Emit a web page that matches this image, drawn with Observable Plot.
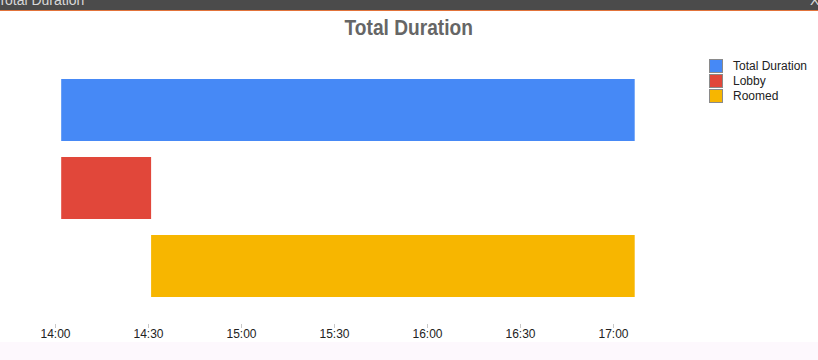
<!DOCTYPE html>
<html>
<head>
<meta charset="utf-8">
<script src="https://cdn.jsdelivr.net/npm/d3@7"></script>
<script src="https://cdn.jsdelivr.net/npm/@observablehq/plot@0.6"></script>
<style>
  html, body { margin: 0; padding: 0; }
  body { width: 818px; height: 360px; background: #fdf8fd; position: relative; overflow: hidden;
         font-family: Arial, "Liberation Sans", sans-serif; }
  #topbar { position: absolute; left: 0; top: 0; width: 818px; height: 10px; background: #4b4b4b;
            border-bottom: 1.5px solid #e2733a; overflow: hidden; }
  #topbar .t { position: absolute; left: -2px; top: -8px; color: #d8d8d8; font-size: 14px;
               font-family: "Liberation Sans Narrow", Arial, sans-serif; white-space: nowrap; }
  #topbar .x { position: absolute; left: 810px; top: -8px; color: #d8d8d8; font-size: 14px; }
  #chart { position: absolute; left: 0; top: 11px; width: 818px; height: 331px; background: #fff; }
  #title { position: absolute; left: 0; width: 818px; top: 15px; text-align: center;
           font-weight: bold; font-size: 22px; color: #666; }
  #title span { display: inline-block; transform: scaleX(0.87); transform-origin: 50% 50%; margin-left: 0px; }
  #legend { position: absolute; left: 709px; top: 58px; font-size: 12px; color: #222; }
  #legend .row { height: 15px; display: flex; align-items: center; }
  #legend .sw { width: 14px; height: 14px; border: 0.5px solid #8a8a8a; box-sizing: border-box; margin-right: 10px; }
</style>
</head>
<body>
<div id="topbar"><span class="t">Total Duration</span><span class="x">XL</span></div>
<div id="chart"></div>
<div id="title"><span>Total Duration</span></div>
<div id="legend"></div>
<script>
const categories = ["Total Duration", "Lobby", "Roomed"];
const starts = ["14:02", "14:02", "14:31"];
const ends = ["17:07", "14:31", "17:07"];
const colors = ["#4689f6", "#e1473a", "#f7b600"];
const tickLabels = ["14:00", "14:30", "15:00", "15:30", "16:00", "16:30", "17:00"];

const parse = d3.utcParse("%H:%M");
const data = categories.map((c, i) => ({cat: c, start: parse(starts[i]), end: parse(ends[i])}));
const tickDates = tickLabels.map(parse);

const plot = Plot.plot({
  width: 818,
  height: 331,
  marginLeft: 55,
  marginRight: 205,
  marginTop: 63.4,
  marginBottom: 18,
  style: {background: "#fff", fontFamily: "Arial, 'Liberation Sans', sans-serif", fontSize: "12px", overflow: "visible"},
  x: {type: "utc", domain: [tickDates[0], tickDates[tickDates.length - 1]]},
  y: {domain: categories, axis: null, paddingInner: 0.2, paddingOuter: 0.2, align: 0.147},
  color: {domain: categories, range: colors},
  marks: [
    Plot.barX(data, {x1: "start", x2: "end", y: "cat", fill: "cat"}),
    Plot.axisX({ticks: tickDates, tickFormat: d3.utcFormat("%H:%M"), tickSize: 4, tickPadding: 1,
                stroke: "#c8c8c8", fill: "#222", fontSize: 12, anchor: "bottom"})
  ]
});
document.getElementById("chart").appendChild(plot);

const legend = document.getElementById("legend");
categories.forEach((c, i) => {
  const row = document.createElement("div");
  row.className = "row";
  const sw = document.createElement("div");
  sw.className = "sw";
  sw.style.background = colors[i];
  const label = document.createElement("span");
  label.textContent = c;
  row.appendChild(sw);
  row.appendChild(label);
  legend.appendChild(row);
});
</script>
</body>
</html>
